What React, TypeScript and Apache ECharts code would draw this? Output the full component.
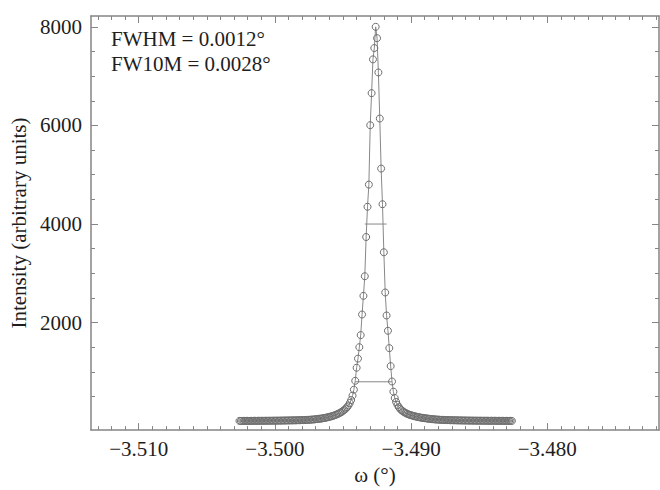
import React, { useEffect, useRef } from 'react';
import * as echarts from 'echarts';

// Rocking-curve scan: omega sampled on a uniform grid
const OMEGA_START = -3.5026;
const OMEGA_STEP = 0.0001;

// Intensity (201 samples)
const INTENSITY_LEFT_TAIL = [
  6, 6, 6, 6, 7, 7, 7, 7, 7, 7, 8, 8, 8, 8, 8, 9, 9, 9, 9, 10,
  10, 10, 10, 10, 11, 11, 11, 12, 12, 12, 13, 13, 14, 14, 15, 15, 16, 16, 17, 17,
  18, 18, 19, 20, 21, 22, 23, 24, 25, 26,
  27, 29, 31, 33, 35, 38, 41, 44, 47, 51,
  55, 59, 64, 69, 75, 81, 88, 95, 103, 112,
  122, 133, 145, 158, 172, 190, 210, 230, 255, 285,
  320, 370, 430, 520, 640, 820,
];
const INTENSITY_PEAK = [
  1085, 1270, 1502, 1747, 2165, 2543, 2941, 3737, 4350, 4800, 6005, 6655, 7340, 7570,
  8000,
  7770, 7075, 6140, 5125, 4402, 3427, 2611, 2145, 1835, 1483, 1118, 806,
];
const INTENSITY_RIGHT_TAIL = [
  600, 470, 390, 330, 285, 250, 222, 200, 182, 166, 152, 140, 130, 121, 113, 105, 98, 91, 85, 80,
  75, 70, 66, 62, 58, 54, 50, 47,
  44, 41, 38, 36, 34, 32, 30, 28, 27, 26,
  25, 24, 23, 22, 21, 20, 19, 19, 18, 17, 17, 16, 16, 15, 15, 14, 14, 13, 13, 13,
  12, 12, 12, 11, 11, 11, 11, 10, 10, 10, 10, 10, 9, 9, 9, 9, 9, 8, 8, 8,
  8, 8, 8, 7, 7, 7, 7, 7, 7, 7,
];

const FWHM_SEGMENT_OMEGA = [-3.4934, -3.4918];
const FWHM_LEVEL = 4000;
const FW10M_SEGMENT_OMEGA = [-3.4941, -3.4914];
const FW10M_LEVEL = 800;

const X_MIN = -3.5135;
const X_MAX = -3.4718;
const Y_MIN = -180;
const Y_MAX = 8220;

const X_MAJOR_TICKS = [-3.51, -3.5, -3.49, -3.48];
const Y_MAJOR_TICKS = [2000, 4000, 6000, 8000];
const Y_MINOR_TICKS = [500, 1000, 1500, 2500, 3000, 3500, 4500, 5000, 5500, 6500, 7000, 7500];

const ANNOTATIONS = ['FWHM = 0.0012\u00b0', 'FW10M = 0.0028\u00b0'];

const X_NAME = '\u03c9 (\u00b0)';
const Y_NAME = 'Intensity (arbitrary units)';

const FONT = '"Liberation Serif", "DejaVu Serif", serif';
const AXIS_COLOR = '#858585';
const TEXT_COLOR = '#1e1e1e';

export default function App() {
  const ref = useRef<HTMLDivElement>(null);

  useEffect(() => {
    if (!ref.current) return;
    const chart = echarts.init(ref.current, undefined, { renderer: 'svg' });

    const intensity = [...INTENSITY_LEFT_TAIL, ...INTENSITY_PEAK, ...INTENSITY_RIGHT_TAIL];
    const data = intensity.map((v, i) => [OMEGA_START + i * OMEGA_STEP, v]);

    const xMinor: number[] = [];
    for (let n = 3472; n <= 3513; n++) {
      if (n % 10 !== 0) xMinor.push(-n / 1000);
    }

    const xBase = (position: 'bottom' | 'top', major: boolean, labels: boolean) => ({
      type: 'value',
      gridIndex: 0,
      position,
      min: X_MIN,
      max: X_MAX,
      axisLine: { show: major, onZero: false, lineStyle: { color: AXIS_COLOR, width: 1.5 } },
      axisTick: {
        show: true,
        inside: true,
        length: major ? 7 : 4,
        customValues: major ? X_MAJOR_TICKS : xMinor,
        lineStyle: { color: AXIS_COLOR, width: 1 },
      },
      axisLabel: labels
        ? {
            show: true,
            customValues: X_MAJOR_TICKS,
            margin: 8,
            color: TEXT_COLOR,
            fontFamily: FONT,
            fontSize: 21,
            formatter: (v: number) => '\u2212' + Math.abs(v).toFixed(3),
          }
        : { show: false },
      splitLine: { show: false },
      ...(labels
        ? {
            name: X_NAME,
            nameLocation: 'middle',
            nameGap: 29,
            nameTextStyle: { color: TEXT_COLOR, fontFamily: FONT, fontSize: 21 },
          }
        : {}),
    });

    const yBase = (position: 'left' | 'right', major: boolean, labels: boolean) => ({
      type: 'value',
      gridIndex: 0,
      position,
      min: Y_MIN,
      max: Y_MAX,
      axisLine: { show: major, onZero: false, lineStyle: { color: AXIS_COLOR, width: 1.5 } },
      axisTick: {
        show: true,
        inside: true,
        length: major ? 7 : 4,
        customValues: major ? Y_MAJOR_TICKS : Y_MINOR_TICKS,
        lineStyle: { color: AXIS_COLOR, width: 1 },
      },
      axisLabel: labels
        ? {
            show: true,
            customValues: Y_MAJOR_TICKS,
            margin: 9,
            color: TEXT_COLOR,
            fontFamily: FONT,
            fontSize: 21,
            formatter: (v: number) => String(v),
          }
        : { show: false },
      splitLine: { show: false },
      ...(labels
        ? {
            name: Y_NAME,
            nameLocation: 'middle',
            nameRotate: 90,
            nameGap: 59,
            nameTextStyle: { color: TEXT_COLOR, fontFamily: FONT, fontSize: 21 },
          }
        : {}),
    });

    chart.setOption({
      animation: false,
      backgroundColor: '#fff',
      grid: { left: 91, right: 1, top: 16, bottom: 51, containLabel: false },
      xAxis: [
        xBase('bottom', true, true),
        xBase('bottom', false, false),
        xBase('top', true, false),
        xBase('top', false, false),
      ],
      yAxis: [
        yBase('left', true, true),
        yBase('left', false, false),
        yBase('right', true, false),
        yBase('right', false, false),
      ],
      graphic: ANNOTATIONS.map((t, i) => ({
        type: 'text',
        left: 111,
        top: 28 + i * 25,
        style: { text: t, fontFamily: FONT, fontSize: 21, fill: TEXT_COLOR },
      })),
      series: [
        {
          type: 'line',
          xAxisIndex: 0,
          yAxisIndex: 0,
          data,
          symbol: 'circle',
          symbolSize: 7,
          showAllSymbol: true,
          lineStyle: { color: '#888', width: 1 },
          itemStyle: { color: 'rgba(255,255,255,0)', borderColor: '#6e6e6e', borderWidth: 1 },
          emphasis: { disabled: true },
        },
        {
          type: 'line',
          xAxisIndex: 0,
          yAxisIndex: 0,
          data: FWHM_SEGMENT_OMEGA.map((x) => [x, FWHM_LEVEL]),
          symbol: 'none',
          lineStyle: { color: '#888', width: 1 },
        },
        {
          type: 'line',
          xAxisIndex: 0,
          yAxisIndex: 0,
          data: FW10M_SEGMENT_OMEGA.map((x) => [x, FW10M_LEVEL]),
          symbol: 'none',
          lineStyle: { color: '#888', width: 1 },
        },
      ],
    });

    return () => chart.dispose();
  }, []);

  return (
    <div
      ref={ref}
      style={{ position: 'absolute', left: 0, top: 0, width: 660, height: 490 }}
    />
  );
}
